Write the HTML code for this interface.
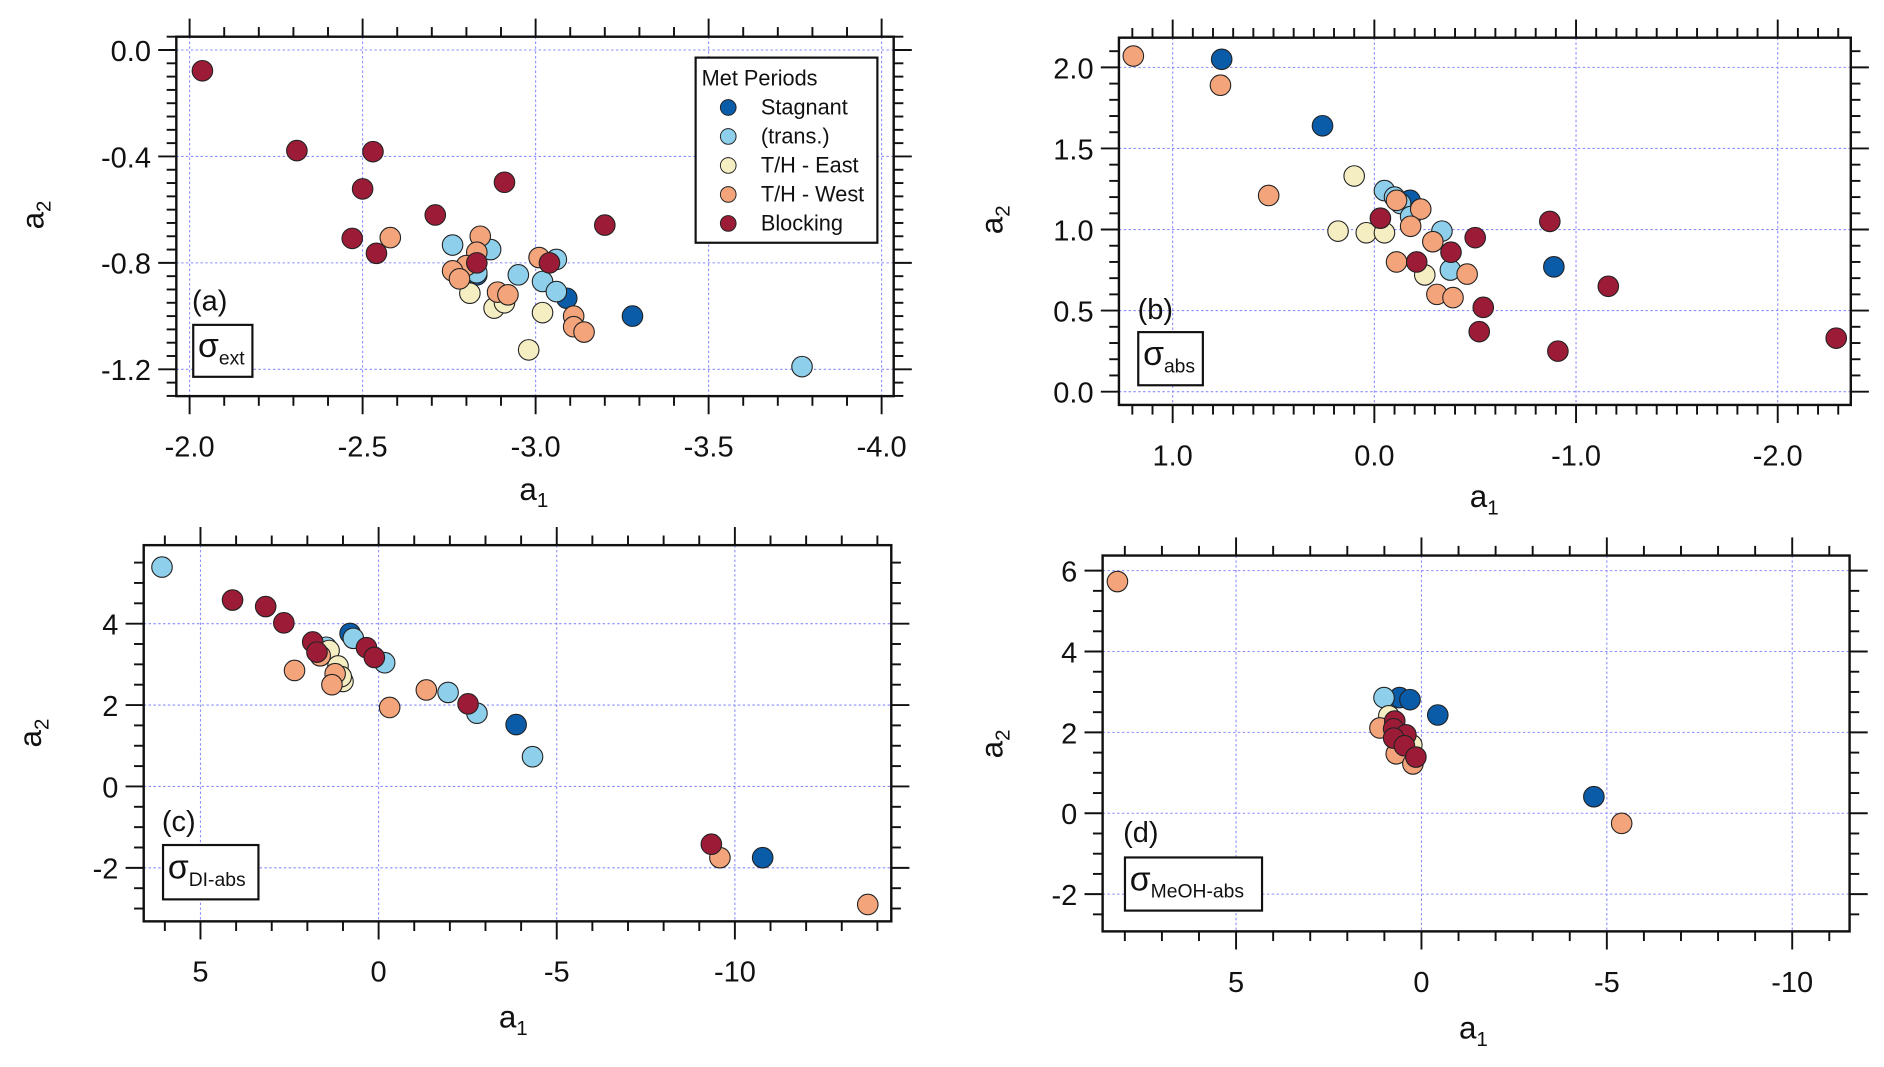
<!DOCTYPE html>
<html><head><meta charset="utf-8">
<style>
html,body{margin:0;padding:0;background:#fff;}
svg{display:block;}
text{font-family:"Liberation Sans",sans-serif;fill:#111;}
</style></head>
<body>
<svg id="chart" width="1884" height="1067" viewBox="0 0 1560 883.5" xmlns="http://www.w3.org/2000/svg"></svg>
<script>
// ---- Panel (a) sigma_ext ----
const a_stag_x=[-3.09,-3.28,-2.83];
const a_stag_y=[-0.933,-1.0,-0.845];
const a_trans_x=[-2.76,-2.87,-2.95,-3.06,-3.02,-3.06,-3.77,-2.83];
const a_trans_y=[-0.733,-0.75,-0.845,-0.787,-0.87,-0.908,-1.19,-0.837];
const a_east_x=[-2.81,-2.88,-2.91,-3.02,-2.98];
const a_east_y=[-0.914,-0.97,-0.95,-0.987,-1.127];
const a_west_x=[-2.58,-2.84,-2.83,-2.80,-2.76,-2.78,-2.89,-2.92,-3.01,-3.11,-3.11,-3.14];
const a_west_y=[-0.705,-0.70,-0.76,-0.81,-0.83,-0.86,-0.91,-0.92,-0.78,-1.00,-1.04,-1.06];
const a_block_x=[-2.037,-2.31,-2.53,-2.50,-2.91,-2.71,-2.47,-2.54,-3.20,-2.83,-3.04];
const a_block_y=[-0.078,-0.378,-0.382,-0.522,-0.497,-0.62,-0.708,-0.764,-0.658,-0.80,-0.80];
const a_xticks=[-2.0,-2.5,-3.0,-3.5,-4.0];
const a_xlabels=["-2.0","-2.5","-3.0","-3.5","-4.0"];
const a_yticks=[0.0,-0.4,-0.8,-1.2];
const a_ylabels=["0.0","-0.4","-0.8","-1.2"];
// ---- Panel (b) sigma_abs ----
const b_stag_x=[0.757,0.257,-0.177,-0.89];
const b_stag_y=[2.05,1.64,1.18,0.77];
const b_trans_x=[-0.05,-0.10,-0.13,-0.18,-0.335,-0.377];
const b_trans_y=[1.24,1.20,1.16,1.08,0.99,0.75];
const b_east_x=[0.10,0.18,0.04,-0.05,-0.25];
const b_east_y=[1.33,0.99,0.98,0.98,0.72];
const b_west_x=[1.195,0.763,0.524,-0.11,-0.23,-0.18,-0.29,-0.11,-0.46,-0.31,-0.39];
const b_west_y=[2.07,1.89,1.21,1.18,1.126,1.02,0.925,0.80,0.725,0.60,0.58];
const b_block_x=[-0.03,-0.50,-0.38,-0.21,-0.87,-1.16,-0.54,-0.52,-0.91,-2.29];
const b_block_y=[1.07,0.95,0.86,0.80,1.05,0.65,0.52,0.37,0.25,0.33];
const b_xticks=[1,0,-1,-2];
const b_xlabels=["1.0","0.0","-1.0","-2.0"];
const b_yticks=[2.0,1.5,1.0,0.5,0.0];
const b_ylabels=["2.0","1.5","1.0","0.5","0.0"];
// ---- Panel (c) sigma_DI-abs ----
const c_stag_x=[0.80,-3.86,-10.78];
const c_stag_y=[3.76,1.52,-1.75];
const c_trans_x=[6.08,-1.95,-2.76,-4.32,0.71,-0.17,1.47];
const c_trans_y=[5.39,2.31,1.80,0.73,3.64,3.04,3.42];
const c_east_x=[1.39,1.14,1.0,1.05];
const c_east_y=[3.34,2.96,2.58,2.7];
const c_west_x=[2.36,-1.34,-0.31,-9.58,-13.73,1.22,1.31,1.64];
const c_west_y=[2.85,2.37,1.94,-1.75,-2.90,2.77,2.50,3.21];
const c_block_x=[4.10,3.17,2.66,1.85,1.73,0.34,0.12,-2.51,-9.34];
const c_block_y=[4.58,4.42,4.02,3.55,3.30,3.41,3.17,2.03,-1.42];
const c_xticks=[5,0,-5,-10];
const c_xlabels=["5","0","-5","-10"];
const c_yticks=[4,2,0,-2];
const c_ylabels=["4","2","0","-2"];
// ---- Panel (d) sigma_MeOH-abs ----
const d_stag_x=[0.59,0.31,-0.44,-4.65];
const d_stag_y=[2.86,2.81,2.43,0.41];
const d_trans_x=[1.01];
const d_trans_y=[2.86];
const d_east_x=[0.88,0.26];
const d_east_y=[2.41,1.69];
const d_west_x=[8.20,-5.40,1.12,0.68,0.23];
const d_west_y=[5.73,-0.25,2.11,1.47,1.22];
const d_block_x=[0.72,0.75,0.42,0.75,0.46,0.15];
const d_block_y=[2.28,2.09,1.94,1.86,1.67,1.39];
const d_xticks=[5,0,-5,-10];
const d_xlabels=["5","0","-5","-10"];
const d_yticks=[6,4,2,0,-2];
const d_ylabels=["6","4","2","0","-2"];

const COL={stag:"#0b5ca8",trans:"#8ed0ec",east:"#f6eec3",west:"#f3a47b",block:"#9c1c38"};
const NS="http://www.w3.org/2000/svg";
const svg=document.getElementById('chart');
function mk(tag,attrs,parent){const e=document.createElementNS(NS,tag);for(const k in attrs)e.setAttribute(k,attrs[k]);(parent||svg).appendChild(e);return e;}
function lin(v0,p0,v1,p1){return v=>p0+(v-v0)*(p1-p0)/(v1-v0);}

function panel(cfg){
  const g=mk('g',{});
  
  
  const X=cfg.X,Y=cfg.Y,f=cfg.frame;
  const xlo=Math.min(cfg.xr[0],cfg.xr[1]),xhi=Math.max(cfg.xr[0],cfg.xr[1]);
  cfg.xt.forEach(v=>{const l=mk('line',{x1:X(v),x2:X(v),y1:f.t,y2:f.b,stroke:'#8a8cff','stroke-width':0.9,'stroke-dasharray':'2,2'},g);
    });
  cfg.yt.forEach(v=>{const l=mk('line',{x1:f.l,x2:f.r,y1:Y(v),y2:Y(v),stroke:'#8a8cff','stroke-width':0.9,'stroke-dasharray':'2,2'},g);
    });
  const fr=mk('rect',{x:f.l,y:f.t,width:f.r-f.l,height:f.b-f.t,fill:'none',stroke:'#111','stroke-width':2},g);
  
  const tg=mk('g',{stroke:'#111','stroke-width':1.6},g);
  
  const eps=1e-6;
  for(let i=Math.ceil(xlo/cfg.xm-eps);i<=Math.floor(xhi/cfg.xm+eps);i++){
    const v=i*cfg.xm;const major=cfg.xt.some(t=>Math.abs(t-v)<eps);const L=major?15:8;const px=X(v);
    mk('line',{x1:px,x2:px,y1:f.b,y2:f.b+L},tg);mk('line',{x1:px,x2:px,y1:f.t,y2:f.t-L},tg);}
  const ylo=Math.min(cfg.yr[0],cfg.yr[1]),yhi=Math.max(cfg.yr[0],cfg.yr[1]);
  for(let i=Math.ceil(ylo/cfg.ym-eps);i<=Math.floor(yhi/cfg.ym+eps);i++){
    const v=i*cfg.ym;const major=cfg.yt.some(t=>Math.abs(t-v)<eps);const L=major?15:8;const py=Y(v);
    mk('line',{x1:f.l,x2:f.l-L,y1:py,y2:py},tg);mk('line',{x1:f.r,x2:f.r+L,y1:py,y2:py},tg);}
  cfg.xt.forEach((v,i)=>{const t=mk('text',{x:X(v),y:f.b+50,'text-anchor':'middle','font-size':24},g);t.textContent=cfg.xl[i];
    });
  cfg.yt.forEach((v,i)=>{const t=mk('text',{x:f.l-21,y:Y(v)+9,'text-anchor':'end','font-size':24},g);t.textContent=cfg.yl[i];
    });
  const xt=mk('text',{x:cfg.xtitle[0],y:cfg.xtitle[1],'text-anchor':'middle','font-size':26},g);
  xt.innerHTML='a<tspan font-size="17" dy="6">1</tspan>';
  
  const yt=mk('text',{x:0,y:0,'text-anchor':'middle','font-size':26,transform:`translate(${cfg.ytitle[0]},${cfg.ytitle[1]}) rotate(-90)`},g);
  yt.innerHTML='a<tspan font-size="17" dy="6">2</tspan>';
  
  const pl=mk('text',{x:cfg.letter[0],y:cfg.letter[1],'font-size':24},g);pl.textContent='('+cfg.id+')';
  
  const b=cfg.box;
  const br=mk('rect',{x:b[0],y:b[1],width:b[2],height:b[3],fill:'#fff',stroke:'#111','stroke-width':1.8},g);
  
  const st=mk('text',{x:b[0]+4,y:b[1]+b[3]*0.62,'font-size':28},g);
  st.innerHTML='σ<tspan font-size="16" dy="6">'+cfg.sub+'</tspan>';
  
  cfg.series.forEach(s=>{
    const sg=mk('g',{},g);
    
    s.x.forEach((xv,i)=>{const c=mk('circle',{cx:X(xv),cy:Y(s.y[i]),r:8.5,fill:COL[s.key],stroke:'#222','stroke-width':0.9},sg);
      });
  });
}
function series(p){return [
 {name:'stagnant',key:'stag',x:p.sx,y:p.sy},
 {name:'trans',key:'trans',x:p.tx,y:p.ty},
 {name:'th-east',key:'east',x:p.ex,y:p.ey},
 {name:'th-west',key:'west',x:p.wx,y:p.wy},
 {name:'blocking',key:'block',x:p.bx,y:p.by}];}

panel({id:'a',X:lin(-2,157,-4,730),Y:lin(0,41.4,-1.2,305.8),frame:{l:146,r:740,t:30.4,b:328},
 xr:[-1.96,-4.04],yr:[0.05,-1.33],xm:0.1,ym:0.05,xt:a_xticks,xl:a_xlabels,yt:a_yticks,yl:a_ylabels,
 xtitle:[442,414],ytitle:[36,178],letter:[159,257],box:[160,269,49,43],sub:'ext',
 series:series({sx:a_stag_x,sy:a_stag_y,tx:a_trans_x,ty:a_trans_y,ex:a_east_x,ey:a_east_y,wx:a_west_x,wy:a_west_y,bx:a_block_x,by:a_block_y})});
panel({id:'b',X:lin(0,1138,-1,1305),Y:lin(2,55.8,0,324.3),frame:{l:926.5,r:1532.5,t:31.2,b:335.3},
 xr:[1.25,-2.37],yr:[2.19,-0.07],xm:0.1,ym:0.1,xt:b_xticks,xl:b_xlabels,yt:b_yticks,yl:b_ylabels,
 xtitle:[1229,420],ytitle:[830,182],letter:[942,264],box:[942.5,275,53.5,44],sub:'abs',
 series:series({sx:b_stag_x,sy:b_stag_y,tx:b_trans_x,ty:b_trans_y,ex:b_east_x,ey:b_east_y,wx:b_west_x,wy:b_west_y,bx:b_block_x,by:b_block_y})});
panel({id:'c',X:lin(0,313.5,-10,608.5),Y:lin(0,651.2,4,516.4),frame:{l:119,r:738,t:451.4,b:762.9},
 xr:[6.6,-14.3],yr:[5.85,-3.3],xm:1,ym:0.5,xt:c_xticks,xl:c_xlabels,yt:c_yticks,yl:c_ylabels,
 xtitle:[425,851],ytitle:[34,607],letter:[134,688],box:[135,699.7,79,45],sub:'DI-abs',
 series:series({sx:c_stag_x,sy:c_stag_y,tx:c_trans_x,ty:c_trans_y,ex:c_east_x,ey:c_east_y,wx:c_west_x,wy:c_west_y,bx:c_block_x,by:c_block_y})});
panel({id:'d',X:lin(0,1177,-10,1484),Y:lin(0,673.4,6,472.5),frame:{l:913,r:1531.5,t:460,b:771.2},
 xr:[8.6,-11.5],yr:[6.3,-2.9],xm:1,ym:0.5,xt:d_xticks,xl:d_xlabels,yt:d_yticks,yl:d_ylabels,
 xtitle:[1220,860],ytitle:[830,616],letter:[930,697],box:[931.5,710,113.5,44],sub:'MeOH-abs',
 series:series({sx:d_stag_x,sy:d_stag_y,tx:d_trans_x,ty:d_trans_y,ex:d_east_x,ey:d_east_y,wx:d_west_x,wy:d_west_y,bx:d_block_x,by:d_block_y})});

const lg=mk('g',{});


mk('rect',{x:576,y:47.7,width:150.5,height:153.3,fill:'#fff',stroke:'#111','stroke-width':1.8},lg);
const lt=mk('text',{x:581,y:71,'font-size':18},lg);lt.textContent='Met Periods';


const legNames=['Stagnant','(trans.)','T/H - East','T/H - West','Blocking'];
const legKeys=['stag','trans','east','west','block'];
legNames.forEach((n,i)=>{const cy=89+i*24;
  const e=mk('g',{},lg);
  
  
  mk('circle',{cx:603,cy:cy,r:6.5,fill:COL[legKeys[i]],stroke:'#222','stroke-width':0.8},e);
  const t=mk('text',{x:630,y:cy+6,'font-size':18},e);t.textContent=n;});
</script>
</body></html>
